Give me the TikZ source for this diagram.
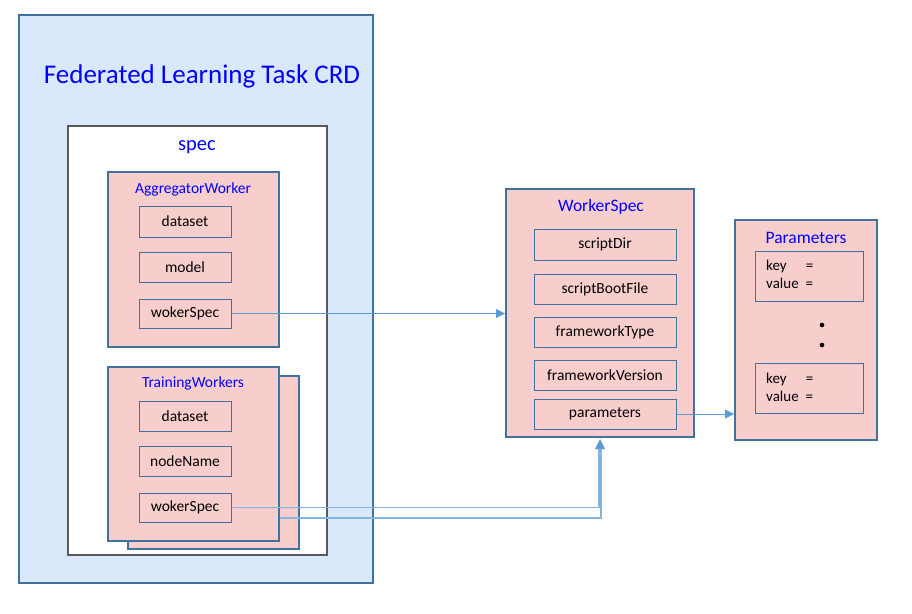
\documentclass[tikz,border=0pt]{standalone}
\usepackage{fontspec}
\setmainfont{Carlito}
\usetikzlibrary{arrows.meta,positioning}
\definecolor{crdfill}{HTML}{DAE8FC}
\definecolor{boxline}{HTML}{41719C}
\definecolor{pinkfill}{HTML}{F8CECC}
\definecolor{specline}{HTML}{595959}
\definecolor{linkblue}{HTML}{5B9BD5}
\definecolor{titleblue}{HTML}{0000FF}
\tikzset{
	container/.style={draw=boxline, line width=2pt, fill=pinkfill, inner sep=0pt},
	field/.style={draw=boxline, line width=1pt, fill=pinkfill, inner sep=0pt,
		minimum width=#1, minimum height=30pt, font=\fontsize{15.5}{18}\selectfont},
	field/.default=92pt,
	heading/.style={text=titleblue, inner sep=0pt, font=\fontsize{15.5}{18}\selectfont},
	link/.style={draw=linkblue, line width=1pt, -{Triangle[length=9pt,width=9pt]}},
	link2/.style={draw=linkblue!75, line width=1.2pt},
}
\begin{document}
\begin{tikzpicture}[x=1pt, y=-1pt]
		\useasboundingbox (0,0) rectangle (912,613);

		% CRD and spec
		\node (crd) [draw=boxline, line width=2pt, fill=crdfill, minimum width=354pt, minimum height=568pt, inner sep=0pt] at (196,299) {};
		\node (crdlabel) [text=titleblue, font=\fontsize{27}{30}\selectfont] at (202,76) {Federated Learning Task CRD};
		\node (spec) [draw=specline, line width=2pt, fill=white, minimum width=259pt, minimum height=429pt, inner sep=0pt] at (197.5,340.5) {};
		\node (speclabel) [text=titleblue, font=\fontsize{20.5}{24}\selectfont] at (197,147) {spec};

		% AggregatorWorker
		\node (agg) [container, minimum width=171pt, minimum height=175pt] at (193.5,259.5) {};
		\node (agglabel) [heading] at (193,189) {AggregatorWorker};
		\node (aggdata) [field, minimum height=31pt] at (185,221.5) {dataset};
		\node (aggmodel) [field] at (185,267) {model};
		\node (aggspec) [field, minimum height=29pt] at (185,313.5) {wokerSpec};

		% TrainingWorkers
		\node (trainback) [container, minimum width=171pt, minimum height=173pt] at (213.5,462.5) {};
		\node (train) [container, minimum width=171pt, minimum height=174pt] at (193.5,454) {};
		\node (trainlabel) [heading] at (193,383) {TrainingWorkers};
		\node (traindata) [field] at (185,416) {dataset};
		\node (trainnode) [field] at (185,461) {nodeName};
		\node (trainspec) [field, minimum height=29pt] at (185,507.5) {wokerSpec};

		% WorkerSpec
		\node (ws) [container, minimum width=188pt, minimum height=248pt] at (600,313) {};
		\node (wslabel) [heading, font=\fontsize{17.5}{20}\selectfont] at (601,207) {WorkerSpec};
		\node (scriptdir) [field=142pt, minimum height=31pt] at (605,244.5) {scriptDir};
		\node (bootfile) [field=142pt] at (605,289) {scriptBootFile};
		\node (ftype) [field=142pt] at (605,332) {frameworkType};
		\node (fversion) [field=142pt] at (605,375) {frameworkVersion};
		\node (params) [field=142pt] at (605,414) {parameters};

		% Parameters
		\node (par) [container, minimum width=142pt, minimum height=220pt] at (806,330) {};
		\node (parlabel) [heading, font=\fontsize{17.5}{20}\selectfont] at (806,238) {Parameters};
		\foreach \name/\y in {kv1/276, kv2/388.5} {
			\node (\name) [field=108pt, minimum height=50pt] at (809,\y) {};
			\node (\name text) [anchor=west, inner sep=0pt, font=\fontsize{15}{18}\selectfont] at (766,\y)
				{\begin{tabular}{@{}l@{\hspace{7pt}}l@{}}key&=\\value&=\end{tabular}};
		}
		\fill (822,325) circle (2.3pt) (822,345) circle (2.3pt);

		% connectors
		\draw[link] (aggspec.east) -- (aggspec.east -| ws.west);
		\draw[link] (params.east) -- (params.east -| par.west);
		\coordinate (trainout) at ([yshift=24pt]train.south east);
		\draw[link2, shorten >=8pt] (trainspec.east) -| ([xshift=-1pt]ws.south);
		\draw[link2, shorten >=8pt] (trainout) -| ([xshift=1pt]ws.south);
		\fill[linkblue] ([yshift=-1pt]ws.south) -- ++(-5,10) -- ++(10,0) -- cycle;
	\end{tikzpicture}
\end{document}
